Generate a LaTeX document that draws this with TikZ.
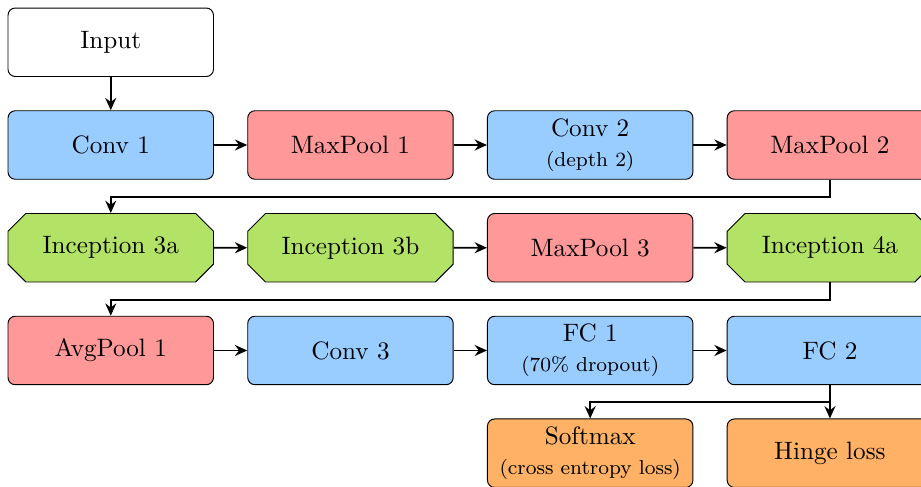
\documentclass[tikz,border=0pt]{standalone}
\usepackage{amsmath, amssymb}
\usepackage{xcolor}
\usepackage{tikz}
\usetikzlibrary{shapes.misc, arrows.meta}

\definecolor{convblue}{RGB}{153,204,255}
\definecolor{poolred}{RGB}{255,153,153}
\definecolor{incgreen}{RGB}{179,227,102}
\definecolor{lossorange}{RGB}{255,178,102}

\newcommand{\subnote}[1]{{\fontsize{8.4pt}{10pt}\selectfont #1}}

\begin{document}
\begin{tikzpicture}[
        layer/.style={draw, rectangle, rounded corners=3pt, minimum width=3cm, minimum height=1cm, inner ysep=1pt, align=center, font=\fontsize{10.45pt}{12.6pt}\selectfont},
        conv/.style={layer, fill=convblue},
        pool/.style={layer, fill=poolred},
        incep/.style={draw, chamfered rectangle, chamfered rectangle xsep=0.13cm, chamfered rectangle ysep=0.13cm, minimum width=3cm, minimum height=1cm, fill=incgreen, inner sep=0pt, font=\fontsize{10.45pt}{12.6pt}\selectfont},
        loss/.style={layer, fill=lossorange},
        flow/.style={-{Stealth[length=1.8mm, width=1.6mm, inset=0.6mm]}, thick}
    ]
        \useasboundingbox (-1.617,0.617) rectangle (11.83,-6.49);
        \clip (-1.617,0.617) rectangle (11.83,-6.49);

        \node[layer] (input) at (0,0) {Input};

        \node[conv] (conv1) at (0,-1.5) {Conv 1};
        \node[pool] (pool1) at (3.5,-1.5) {MaxPool 1};
        \node[conv] (conv2) at (7,-1.5) {Conv 2\\\subnote{(depth 2)}};
        \node[pool] (pool2) at (10.5,-1.5) {MaxPool 2};

        \node[incep] (inc3a) at (0,-3) {Inception 3a};
        \node[incep] (inc3b) at (3.5,-3) {Inception 3b};
        \node[pool] (pool3) at (7,-3) {MaxPool 3};
        \node[incep] (inc4a) at (10.5,-3) {Inception 4a};

        \node[pool] (avgpool) at (0,-4.5) {AvgPool 1};
        \node[conv] (conv3) at (3.5,-4.5) {Conv 3};
        \node[conv] (fc1) at (7,-4.5) {FC 1\\\subnote{(70\% dropout)}};
        \node[conv] (fc2) at (10.5,-4.5) {FC 2};

        \node[loss] (softmax) at (7,-6) {Softmax\\\subnote{(cross entropy loss)}};
        \node[loss] (hinge) at (10.5,-6) {Hinge loss};

        \draw[flow] (input) -- (conv1);
        \draw[flow] (conv1) -- (pool1);
        \draw[flow] (pool1) -- (conv2);
        \draw[flow] (conv2) -- (pool2);
        \draw[flow] (pool2.south) -- ++(0,-0.25) -| (inc3a.north);

        \draw[flow] (inc3a) -- (inc3b);
        \draw[flow] (inc3b) -- (pool3);
        \draw[flow] (pool3) -- (inc4a);
        \draw[flow] (inc4a.south) -- ++(0,-0.25) -| (avgpool.north);

        \draw[flow] (avgpool) -- (conv3);
        \draw[flow] (conv3) -- (fc1);
        \draw[flow] (fc1) -- (fc2);
        \draw[flow] (fc2.south) -- ++(0,-0.25) -| (softmax.north);
        \draw[flow] (fc2) -- (hinge);
    \end{tikzpicture}
\end{document}
